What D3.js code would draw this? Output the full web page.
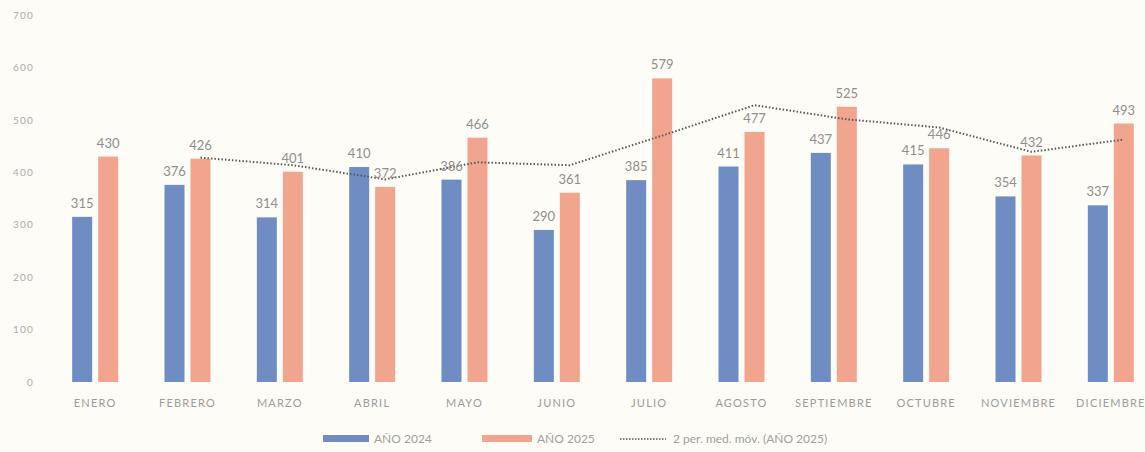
<!DOCTYPE html>
<html>
<head>
<meta charset="utf-8">
<script src="https://cdn.jsdelivr.net/npm/d3@7/dist/d3.min.js"></script>
<style>
  html, body { margin: 0; padding: 0; background: #fdfcf6; }
  svg { display: block; font-family: Lato, "Open Sans", sans-serif; }
</style>
</head>
<body>
<svg id="chart" width="1145" height="452"></svg>
<script>
// ── Data ────────────────────────────────────────────────────────────────
const meses = ['ENERO', 'FEBRERO', 'MARZO', 'ABRIL', 'MAYO', 'JUNIO',
               'JULIO', 'AGOSTO', 'SEPTIEMBRE', 'OCTUBRE', 'NOVIEMBRE', 'DICIEMBRE'];
const anio2024 = [315, 376, 314, 410, 386, 290, 385, 411, 437, 415, 354, 337];
const anio2025 = [430, 426, 401, 372, 466, 361, 579, 477, 525, 446, 432, 493];
// 2-period moving average of 2025 (first month has no value)
const mediaMovil = [null, 428, 413.5, 386.5, 419, 413.5, 470, 528, 501, 485.5, 439, 462.5];
const yTicks = [0, 100, 200, 300, 400, 500, 600, 700];
const seriesNames = ['AÑO 2024', 'AÑO 2025', '2 per. med. móv. (AÑO 2025)'];

const BLUE   = '#6f8cc3';
const ORANGE = '#f1a48e';
const LABEL  = '#8f8f8f';

const svg = d3.select('#chart');

// ── Scales ──────────────────────────────────────────────────────────────
const x = d3.scaleBand().domain(meses).range([49, 1157]).paddingInner(0).paddingOuter(0);
const y = d3.scaleLinear().domain([0, 700]).range([382, 15]);

const barW = 20, barGap = 6;
const xBlue   = m => x(m) + x.bandwidth() / 2 - barGap / 2 - barW;
const xOrange = m => x(m) + x.bandwidth() / 2 + barGap / 2;

// ── Y axis (labels only) ────────────────────────────────────────────────
const yAxis = d3.axisLeft(y).tickValues(yTicks).tickSize(0).tickPadding(0);
const yG = svg.append('g').attr('transform', 'translate(34,0)').call(yAxis);
yG.select('.domain').remove();
yG.selectAll('text')
  .attr('font-size', 10).attr('fill', '#ababab')
  .attr('letter-spacing', 1.2)
  .attr('font-family', 'Lato, sans-serif');

// ── X axis (labels only) ────────────────────────────────────────────────
const xAxis = d3.axisBottom(x).tickSize(0).tickPadding(0);
const xG = svg.append('g').attr('transform', 'translate(0,399)').call(xAxis);
xG.select('.domain').remove();
xG.selectAll('text')
  .attr('font-size', 11).attr('fill', '#9c9c9c')
  .attr('letter-spacing', 1.2)
  .attr('font-family', 'Lato, sans-serif');

// ── Bars ────────────────────────────────────────────────────────────────
const bars = svg.append('g');
bars.selectAll('.b24').data(meses).join('rect')
  .attr('x', m => xBlue(m))
  .attr('y', (m, i) => y(anio2024[i]))
  .attr('width', barW)
  .attr('height', (m, i) => y(0) - y(anio2024[i]))
  .attr('fill', BLUE);

bars.selectAll('.b25').data(meses).join('rect')
  .attr('x', m => xOrange(m))
  .attr('y', (m, i) => y(anio2025[i]))
  .attr('width', barW)
  .attr('height', (m, i) => y(0) - y(anio2025[i]))
  .attr('fill', ORANGE);

// ── Moving average (dotted) ─────────────────────────────────────────────
const line = d3.line()
  .defined(d => d.v != null)
  .x(d => xOrange(d.m) + barW / 2)
  .y(d => y(d.v));

svg.append('path')
  .datum(meses.map((m, i) => ({ m, v: mediaMovil[i] })))
  .attr('d', line)
  .attr('fill', 'none')
  .attr('stroke', '#5a5a5a')
  .attr('stroke-width', 2)
  .attr('stroke-dasharray', '1.5,2');

// ── Data labels ─────────────────────────────────────────────────────────
const labels = svg.append('g')
  .attr('font-size', 13).attr('fill', LABEL).attr('text-anchor', 'middle');

meses.forEach((m, i) => {
  labels.append('text')
    .attr('x', xBlue(m) + barW / 2)
    .attr('y', y(anio2024[i]) - 9)
    .text(anio2024[i]);
  labels.append('text')
    .attr('x', xOrange(m) + barW / 2)
    .attr('y', y(anio2025[i]) - 9)
    .text(anio2025[i]);
});

// ── Legend ──────────────────────────────────────────────────────────────
const leg = svg.append('g').attr('font-size', 12).attr('fill', '#a0a0a0');

leg.append('rect').attr('x', 323).attr('y', 435).attr('width', 46).attr('height', 7).attr('fill', BLUE);
leg.append('text').attr('x', 374).attr('y', 443).text(seriesNames[0]);

leg.append('rect').attr('x', 482).attr('y', 435).attr('width', 50).attr('height', 7).attr('fill', ORANGE);
leg.append('text').attr('x', 537).attr('y', 443).text(seriesNames[1]);

leg.append('line')
  .attr('x1', 620).attr('x2', 666).attr('y1', 439).attr('y2', 439)
  .attr('stroke', '#5a5a5a').attr('stroke-width', 1.5).attr('stroke-dasharray', '1.5,1.5');
leg.append('text').attr('x', 673).attr('y', 443).text(seriesNames[2]);
</script>
</body>
</html>
